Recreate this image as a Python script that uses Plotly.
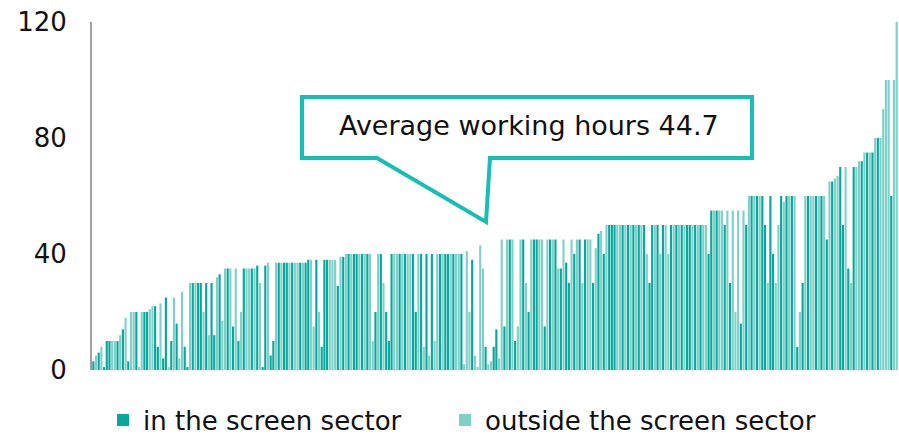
import plotly.graph_objects as go

# Weekly working hours per respondent (sorted view as in the chart)
hours = [
    3, 5, 6, 8, 1, 10, 10, 10, 10, 10,
    12, 14, 18, 3, 20, 20, 20, 1, 20, 20,
    20, 21, 22, 22, 8, 23, 4, 25, 1, 10,
    25, 16, 4, 27, 8, 1, 30, 30, 30, 30,
    30, 20, 30, 12, 30, 12, 32, 33, 17, 35,
    35, 35, 15, 35, 10, 20, 35, 35, 35, 35,
    35, 36, 30, 1, 36, 37, 5, 10, 37, 37,
    37, 37, 37, 37, 37, 37, 37, 37, 37, 37,
    38, 38, 15, 38, 20, 8, 38, 38, 38, 38,
    38, 29, 39, 39, 40, 40, 40, 40, 40, 40,
    40, 40, 40, 40, 10, 20, 40, 40, 30, 20,
    10, 40, 40, 40, 40, 40, 40, 40, 40, 40,
    20, 40, 40, 8, 40, 5, 40, 10, 40, 40,
    40, 40, 40, 40, 40, 40, 40, 40, 2, 41,
    20, 38, 5, 1, 43, 35, 8, 2, 3, 8,
    14, 4, 45, 15, 45, 45, 45, 10, 15, 45,
    45, 30, 20, 45, 45, 45, 45, 45, 15, 45,
    45, 45, 45, 35, 35, 45, 37, 30, 45, 40,
    45, 45, 30, 45, 45, 45, 30, 42, 47, 48,
    40, 50, 50, 50, 50, 50, 50, 50, 50, 50,
    50, 50, 50, 50, 50, 50, 40, 30, 50, 50,
    50, 40, 50, 50, 40, 50, 50, 50, 50, 50,
    50, 50, 50, 50, 50, 50, 50, 50, 50, 40,
    55, 55, 55, 55, 55, 50, 55, 30, 55, 20,
    55, 16, 55, 50, 60, 60, 60, 60, 60, 60,
    50, 30, 60, 40, 30, 50, 60, 58, 60, 60,
    60, 60, 8, 20, 30, 60, 60, 60, 60, 60,
    60, 60, 60, 45, 65, 65, 66, 67, 70, 50,
    70, 35, 30, 70, 70, 72, 72, 75, 75, 75,
    75, 80, 80, 80, 90, 100, 100, 60, 100, 120,
]

# d = in the screen sector, l = outside the screen sector
sector_codes = "".join([
    "dldldddlld", "ldldlldlld", "dllddlddld", "ldllddldld", "dldlddldll",
    "dldldldlld", "ldlddlddld", "lddldlldld", "dlldldddll", "ldldldlddl",
    "dldlldldld", "ddlldldlld", "dldldldlld", "lddldlldll", "ldlllldlld",
    "dlldldldll", "dldlddlldl", "dldldlddld", "ldldlldldl", "dldddlldld",
    "ldldldlddl", "dldlldldld", "lddldldlld", "dldlldldll", "ldldldldld",
    "dlddlldldl", "dldldldlld", "ldldldlldd", "ldldlldldl", "dldlllldll",
])

series_names = ["in the screen sector", "outside the screen sector"]
series_codes = ["d", "l"]
series_colors = ["#06A89D", "#80D0CA"]

respondents = list(range(1, len(hours) + 1))
callout_text = "Average working hours 44.7"
y_ticks = [0, 40, 80, 120]

FONT = "DejaVu Sans"
W, H = 899, 435
ML, MR, MT, MB = 92, 1, 22, 65
PW, PH = W - ML - MR, H - MT - MB


def px(x):
    return (x - ML) / PW


def py(y):
    return (H - MB - y) / PH


legend_ids = ["legend", "legend2"]
fig = go.Figure()
for name, code, color, lg in zip(series_names, series_codes, series_colors,
                                 legend_ids):
    ys = [h if s == code else None for h, s in zip(hours, sector_codes)]
    fig.add_trace(go.Bar(x=respondents, y=ys, name=name, legend=lg,
                         marker=dict(color=color, line=dict(width=0))))

# callout bubble
path = (f"M {px(302)},{py(158)} L {px(302)},{py(97)} L {px(752)},{py(97)} "
        f"L {px(752)},{py(158)} L {px(490)},{py(158)} L {px(486)},{py(222)} "
        f"L {px(377)},{py(158)} Z")
fig.add_shape(type="path", path=path, xref="paper", yref="paper",
              line=dict(color="#17BEB6", width=4), fillcolor="white",
              layer="above")
fig.add_annotation(text=callout_text, x=px(529), y=py(125), xref="paper",
                   yref="paper", xanchor="center", yanchor="middle",
                   showarrow=False,
                   font=dict(family=FONT, size=27, color="#111111"))

legend_font = dict(family=FONT, size=26, color="#111111")
fig.update_layout(
    width=W, height=H,
    margin=dict(l=ML, r=MR, t=MT, b=MB, autoexpand=False),
    paper_bgcolor="white", plot_bgcolor="white",
    barmode="overlay", bargap=0.2,
    font=dict(family=FONT, size=26, color="#111111"),
    showlegend=True,
    legend=dict(orientation="h", x=px(103), xanchor="left",
                y=py(420), yanchor="middle", font=legend_font,
                itemwidth=30),
    legend2=dict(orientation="h", x=px(445), xanchor="left",
                 y=py(420), yanchor="middle", font=legend_font,
                 itemwidth=30),
    xaxis=dict(range=[0.5, len(hours) + 0.5], showticklabels=False,
               showgrid=False, zeroline=False, showline=False, ticks=""),
    yaxis=dict(range=[0, 120], tickvals=y_ticks, showgrid=False,
               zeroline=False, showline=True, linecolor="#A0A0A0",
               linewidth=2, ticks="", ticklabelstandoff=18, automargin=False,
               tickfont=dict(family=FONT, size=26, color="#111111")),
)

fig.write_html("out.html", config={"displayModeBar": False},
               post_script="document.body.style.margin='0px';")
